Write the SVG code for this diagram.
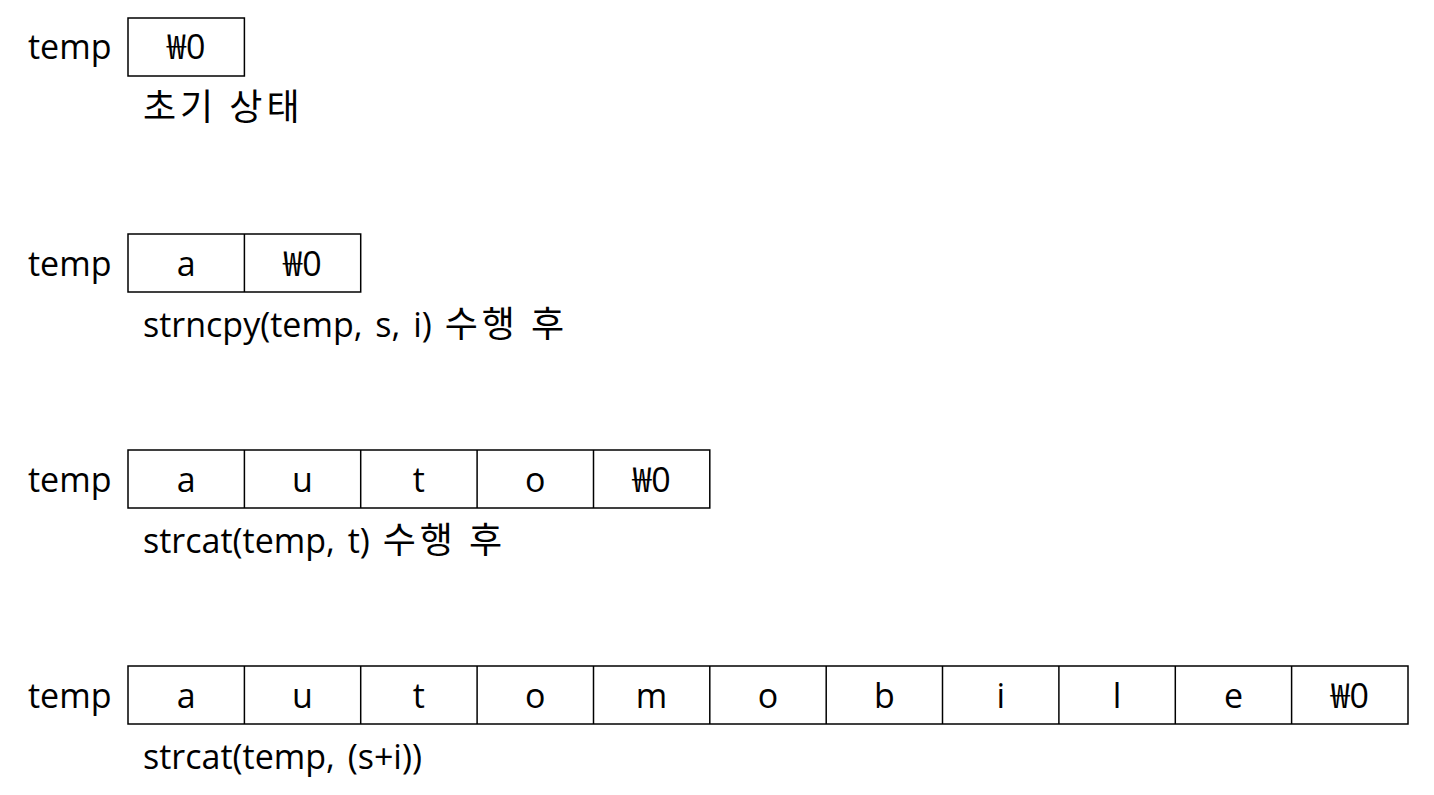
<svg xmlns="http://www.w3.org/2000/svg" width="1434" height="795" viewBox="0 0 1434 795">
<style>
text{font-family:"Open Sans","Noto Sans CJK KR",sans-serif;font-size:34px;fill:#000}
.l{word-spacing:4px}
.k{font-family:"Noto Sans CJK KR",sans-serif;font-size:36px;letter-spacing:4px;word-spacing:0}
.c{text-anchor:middle}
rect{fill:#fff;stroke:#000;stroke-width:1.5}
line{stroke:#000;stroke-width:1.5}
</style>
<rect x="0" y="0" width="1434" height="795" style="fill:#fff;stroke:none"/>
<g id="row1">
<text x="28" y="59">temp</text>
<rect x="128" y="18" width="116.4" height="58"/>
<text class="c" x="186.2" y="59">₩0</text>
<text class="l" x="143" y="120"><tspan class="k">초기 상태</tspan></text>
</g>
<g id="row2">
<text x="28" y="276">temp</text>
<rect x="128" y="234" width="232.7" height="58"/>
<line x1="244.4" y1="234" x2="244.4" y2="292"/>
<text class="c" x="186.2" y="276">a</text>
<text class="c" x="302.5" y="276">₩0</text>
<text class="l" x="143" y="337">strncpy(temp, s, i) <tspan class="k">수행 후</tspan></text>
</g>
<g id="row3">
<text x="28" y="492">temp</text>
<rect x="128" y="450" width="581.8" height="58"/>
<line x1="244.4" y1="450" x2="244.4" y2="508"/>
<line x1="360.7" y1="450" x2="360.7" y2="508"/>
<line x1="477.1" y1="450" x2="477.1" y2="508"/>
<line x1="593.5" y1="450" x2="593.5" y2="508"/>
<text class="c" x="186.2" y="492">a</text>
<text class="c" x="302.5" y="492">u</text>
<text class="c" x="418.9" y="492">t</text>
<text class="c" x="535.3" y="492">o</text>
<text class="c" x="651.6" y="492">₩0</text>
<text class="l" x="143" y="553">strcat(temp, t) <tspan class="k">수행 후</tspan></text>
</g>
<g id="row4">
<text x="28" y="708">temp</text>
<rect x="128" y="666" width="1280" height="58"/>
<line x1="244.4" y1="666" x2="244.4" y2="724"/>
<line x1="360.7" y1="666" x2="360.7" y2="724"/>
<line x1="477.1" y1="666" x2="477.1" y2="724"/>
<line x1="593.5" y1="666" x2="593.5" y2="724"/>
<line x1="709.8" y1="666" x2="709.8" y2="724"/>
<line x1="826.2" y1="666" x2="826.2" y2="724"/>
<line x1="942.5" y1="666" x2="942.5" y2="724"/>
<line x1="1058.9" y1="666" x2="1058.9" y2="724"/>
<line x1="1175.3" y1="666" x2="1175.3" y2="724"/>
<line x1="1291.6" y1="666" x2="1291.6" y2="724"/>
<text class="c" x="186.2" y="708">a</text>
<text class="c" x="302.5" y="708">u</text>
<text class="c" x="418.9" y="708">t</text>
<text class="c" x="535.3" y="708">o</text>
<text class="c" x="651.6" y="708">m</text>
<text class="c" x="768" y="708">o</text>
<text class="c" x="884.4" y="708">b</text>
<text class="c" x="1000.7" y="708">i</text>
<text class="c" x="1117.1" y="708">l</text>
<text class="c" x="1233.5" y="708">e</text>
<text class="c" x="1349.8" y="708">₩0</text>
<text class="l" x="143" y="769">strcat(temp, (s+i))</text>
</g>
</svg>
